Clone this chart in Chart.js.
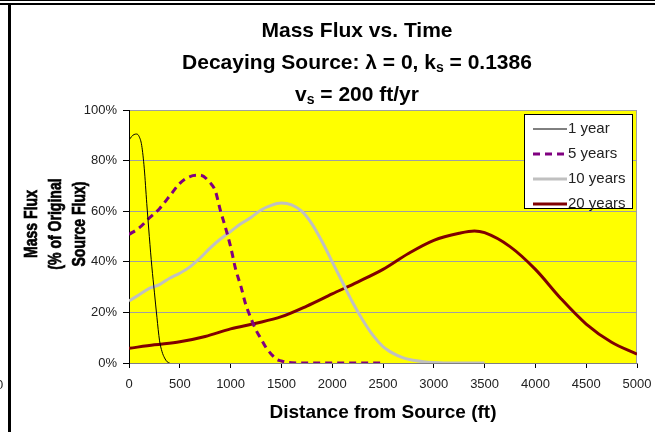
<!DOCTYPE html>
<html>
<head>
<meta charset="utf-8">
<script src="https://cdn.jsdelivr.net/npm/chart.js@4.4.1/dist/chart.umd.min.js"></script>
<style>
html, body { margin: 0; padding: 0; background: #fff; }
#wrap { width: 655px; height: 432px; }
</style>
</head>
<body>
<div id="wrap"><canvas id="fluxChart" width="655" height="432"></canvas></div>
<script>
// Mass flux vs distance, decaying source, four elapsed times
const seriesLabels = ['1 year', '5 years', '10 years', '20 years'];

const oneYearDist = [0, 25, 50, 75, 100, 125, 150, 175, 200, 225, 250, 275, 300, 325, 350, 375, 400];
const oneYearFlux = [88, 89.5, 90.3, 90.5, 89.5, 86, 77, 63, 50, 38, 28, 18, 9, 4.5, 2, 0.5, 0];

const fiveYearDist = [0, 100, 200, 300, 400, 500, 600, 700, 800, 850, 900, 950, 1000, 1050, 1100, 1150, 1200,
    1250, 1300, 1350, 1400, 1450, 1500, 1550, 1600, 1700, 2000, 2500];
const fiveYearFlux = [50.8, 53.4, 57.3, 61, 66, 71, 73.7, 74.2, 71.2, 68, 60.2, 53.5, 46, 37, 30.5, 23, 17.7,
    13, 9.5, 6, 3.5, 1.5, 0.8, 0.3, 0.1, 0, 0, 0];

const tenYearDist = [0, 100, 200, 300, 400, 500, 600, 700, 800, 900, 1000, 1100, 1200, 1300, 1400, 1500, 1600,
    1700, 1800, 1900, 2000, 2100, 2200, 2300, 2400, 2500, 2600, 2700, 2800, 2900, 3000, 3200, 3500];
const tenYearFlux = [24.5, 27, 29.5, 31, 33.5, 35.5, 38, 41.5, 45.5, 49, 52, 55, 57.5, 60.5, 62.3, 63.2, 62.5,
    60, 55, 48, 40, 32, 24, 17, 11, 6.5, 3.8, 2, 1.1, 0.5, 0.2, 0, 0];

const twentyYearDist = [0, 250, 500, 750, 1000, 1250, 1500, 1750, 2000, 2250, 2500, 2750, 3000, 3250, 3400,
    3500, 3750, 4000, 4250, 4500, 4750, 5000];
const twentyYearFlux = [5.8, 7.2, 8.4, 10.5, 13.5, 15.7, 18.3, 22.5, 27.3, 32, 37, 43.3, 48.5, 51.3, 52.2,
    51.5, 46, 37, 25.5, 15.4, 8.2, 3.5];

const yTicks = [0, 20, 40, 60, 80, 100];
const xTicks = [0, 500, 1000, 1500, 2000, 2500, 3000, 3500, 4000, 4500, 5000];

function toPoints(xs, ys) {
    return xs.map((x, i) => ({ x: x, y: ys[i] }));
}

const FONT = '"Liberation Sans", Arial, sans-serif';

const frame = {
    id: 'frame',
    beforeDraw(chart) {
        const { ctx, chartArea: a } = chart;
        ctx.save();
        ctx.fillStyle = '#ffff00';
        ctx.fillRect(a.left, a.top, a.right - a.left, a.bottom - a.top);
        // page decoration round the chart
        ctx.fillStyle = '#000';
        ctx.fillRect(0, 0, 655, 1);
        ctx.fillRect(0, 3, 655, 2);
        ctx.fillRect(8, 5, 3, 427);
        ctx.fillStyle = '#222';
        ctx.font = '13px ' + FONT;
        ctx.textBaseline = 'middle';
        ctx.fillText('0', -4, 385);
        ctx.restore();
    },
    beforeDatasetsDraw(chart) {
        const { ctx, chartArea: a } = chart;
        ctx.save();
        ctx.strokeStyle = '#a0a0a0';
        ctx.lineWidth = 1;
        ctx.beginPath();
        ctx.moveTo(a.right - 0.5, a.top);
        ctx.lineTo(a.right - 0.5, a.bottom);
        ctx.stroke();
        ctx.restore();
    },
    afterDraw(chart) {
        const { ctx } = chart;
        ctx.save();
        ctx.fillStyle = '#000';
        ctx.textBaseline = 'middle';

        // title lines with subscripts
        const size = 21;
        const lines = [
            { y: 31, parts: [{ t: 'Mass Flux vs. Time' }] },
            { y: 63, parts: [{ t: 'Decaying Source: \u03bb = 0, k' }, { t: 's', sub: true }, { t: ' = 0.1386' }] },
            { y: 95, parts: [{ t: 'v' }, { t: 's', sub: true }, { t: ' = 200 ft/yr' }] }
        ];
        lines.forEach(line => {
            let w = 0;
            line.parts.forEach(p => {
                ctx.font = 'bold ' + (p.sub ? 14 : size) + 'px ' + FONT;
                p.w = ctx.measureText(p.t).width;
                w += p.w;
            });
            let x = 357 - w / 2;
            ctx.textAlign = 'left';
            line.parts.forEach(p => {
                ctx.font = 'bold ' + (p.sub ? 14 : size) + 'px ' + FONT;
                ctx.fillText(p.t, x, line.y + (p.sub ? 5 : 0));
                x += p.w;
            });
        });

        // y axis title, three rotated lines, condensed and heavy like the original
        const yTitle = ['Mass Flux', '(% of Original', 'Source Flux)'];
        ctx.font = 'bold 18px ' + FONT;
        ctx.textAlign = 'center';
        ctx.strokeStyle = '#000';
        ctx.lineWidth = 0.7;
        yTitle.forEach((t, i) => {
            ctx.save();
            ctx.translate(32 + i * 24, 224);
            ctx.rotate(-Math.PI / 2);
            ctx.scale(0.78, 1);
            ctx.fillText(t, 0, 0);
            ctx.strokeText(t, 0, 0);
            ctx.restore();
        });

        // legend box
        const bx = 524.5, by = 114.5, bw = 108, bh = 94;
        ctx.fillStyle = '#fff';
        ctx.fillRect(bx, by, bw, bh);
        ctx.strokeStyle = '#000';
        ctx.lineWidth = 1;
        ctx.strokeRect(bx, by, bw, bh);
        ctx.font = '15px ' + FONT;
        ctx.textAlign = 'left';
        chart.data.datasets.forEach((ds, i) => {
            const yy = 129 + i * 25;
            ctx.save();
            ctx.strokeStyle = ds.borderColor;
            ctx.lineWidth = ds.borderWidth;
            ctx.setLineDash(ds.borderDash || []);
            ctx.beginPath();
            ctx.moveTo(533, yy);
            ctx.lineTo(567, yy);
            ctx.stroke();
            ctx.restore();
            ctx.fillStyle = '#222';
            ctx.fillText(ds.label, 568, yy);
        });
        ctx.restore();
    }
};

new Chart(document.getElementById('fluxChart'), {
    type: 'line',
    data: {
        datasets: [
            { label: seriesLabels[0], data: toPoints(oneYearDist, oneYearFlux), borderColor: '#000000', borderWidth: 1 },
            { label: seriesLabels[1], data: toPoints(fiveYearDist, fiveYearFlux), borderColor: '#800080', borderWidth: 3, borderDash: [7, 5] },
            { label: seriesLabels[2], data: toPoints(tenYearDist, tenYearFlux), borderColor: '#c0c0c0', borderWidth: 3 },
            { label: seriesLabels[3], data: toPoints(twentyYearDist, twentyYearFlux), borderColor: '#800000', borderWidth: 3 }
        ]
    },
    options: {
        responsive: false,
        animation: false,
        devicePixelRatio: 1,
        layout: { padding: { top: 110, right: 18, bottom: 0, left: 0 } },
        elements: {
            point: { radius: 0 },
            line: { cubicInterpolationMode: 'monotone', fill: false }
        },
        plugins: {
            legend: { display: false },
            title: { display: false },
            tooltip: { enabled: false }
        },
        scales: {
            x: {
                type: 'linear',
                min: 0,
                max: 5000,
                afterFit(s) { s.height = 69; s.paddingLeft = 0; s.paddingRight = 0; },
                afterBuildTicks(s) { s.ticks = xTicks.map(v => ({ value: v })); },
                ticks: { color: '#222', font: { family: FONT, size: 13 }, padding: 9, maxRotation: 0, callback: v => String(v) },
                grid: { drawOnChartArea: false, tickLength: 5, tickColor: '#000' },
                border: { color: '#808080', width: 1 },
                title: {
                    display: true,
                    text: 'Distance from Source (ft)',
                    color: '#000',
                    font: { family: FONT, size: 19, weight: 'bold' },
                    padding: { top: 0, bottom: 8 }
                }
            },
            y: {
                min: 0,
                max: 100,
                afterFit(s) { s.width = 129; },
                afterBuildTicks(s) { s.ticks = yTicks.map(v => ({ value: v })); },
                ticks: { color: '#222', font: { family: FONT, size: 13 }, padding: 6, callback: v => v + '%' },
                grid: { color: '#a0a0a0', tickLength: 6, tickColor: '#000' },
                border: { color: '#000', width: 1 }
            }
        }
    },
    plugins: [frame]
});
</script>
</body>
</html>
